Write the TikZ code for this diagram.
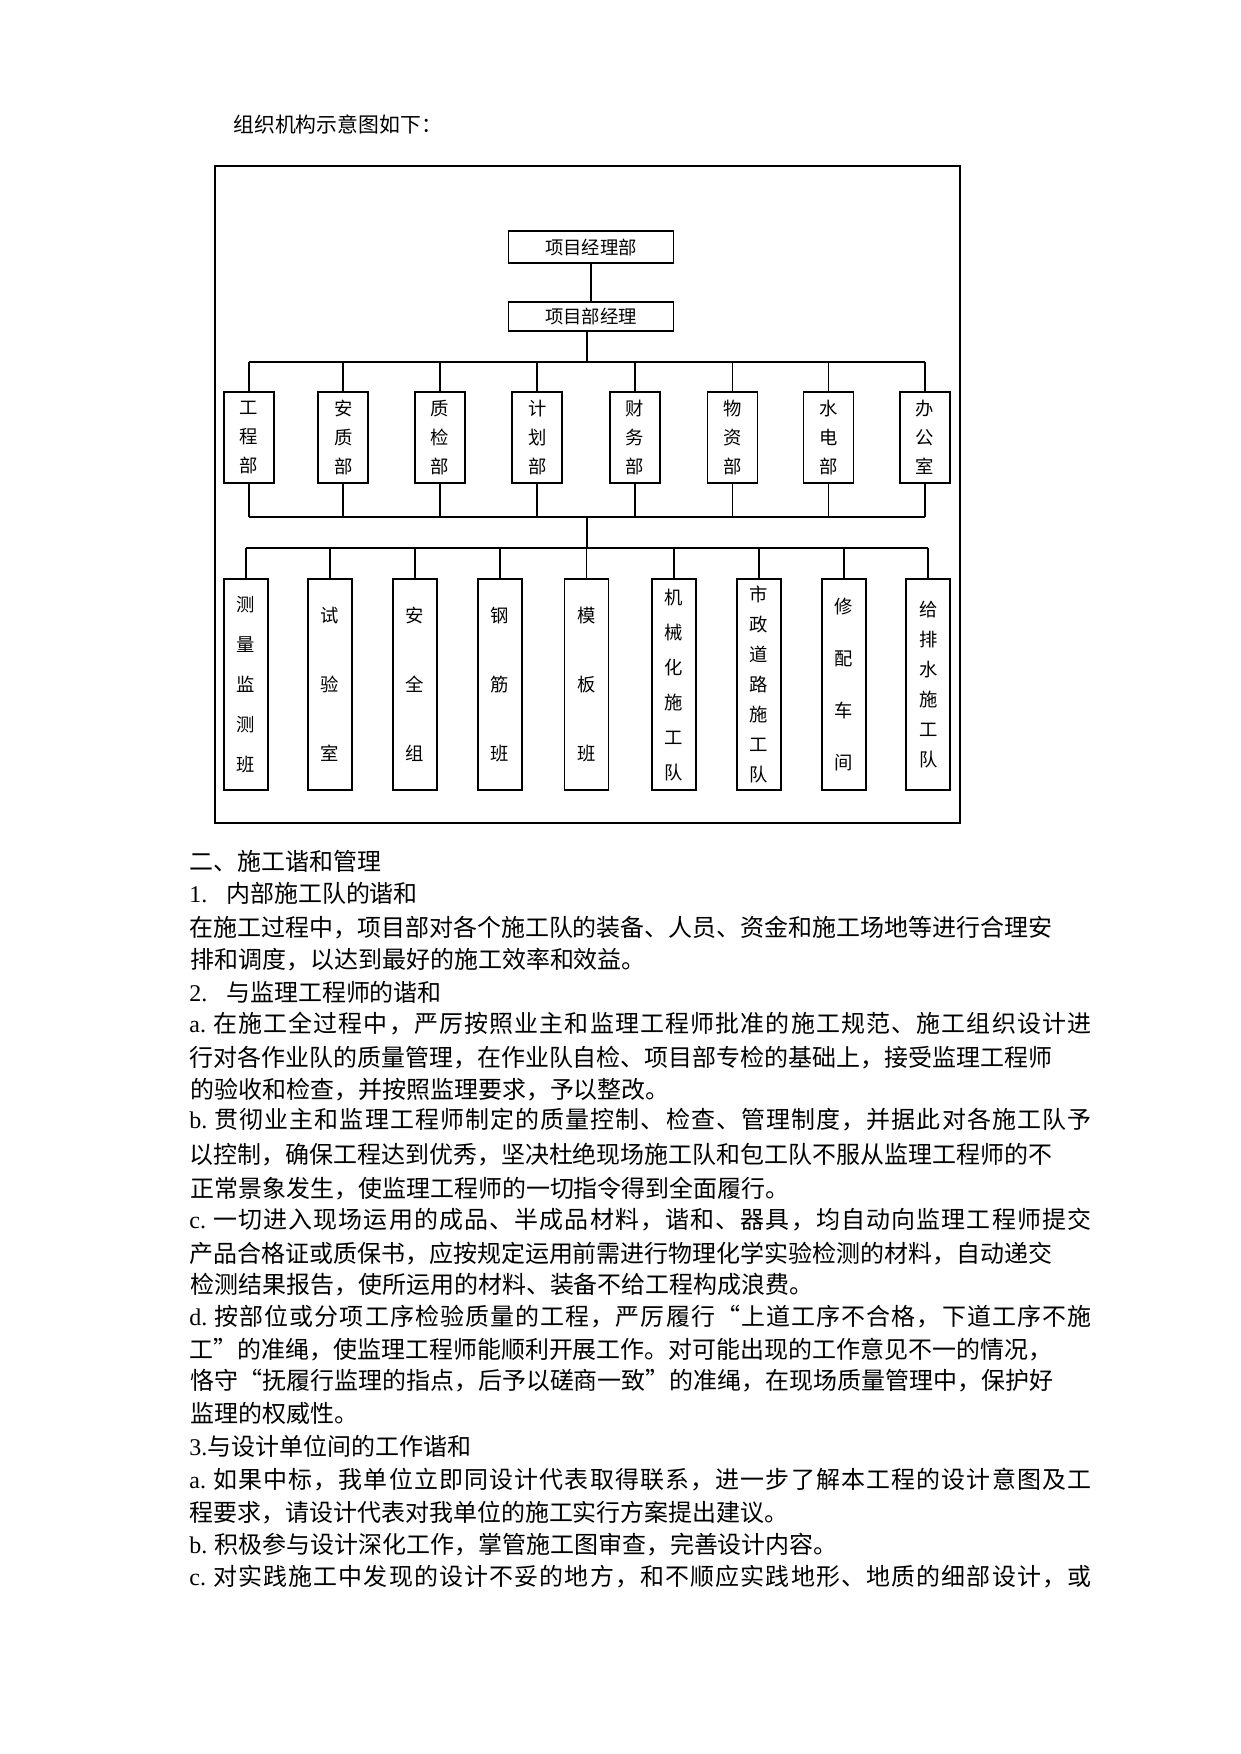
\documentclass[tikz,border=0pt]{standalone}
\usepackage{fontspec}
\setmainfont{Liberation Serif}
\newfontfamily\cjk{Noto Sans CJK SC}
\usepackage{tikz}
\newcommand{\lat}[1]{{\rmfamily #1}}
% spread the characters of a full line over the text width
\def\sprend{sprend-marker}
\def\spreadtxt#1{\sprfirst#1\sprend}
\def\sprfirst#1{#1\sprloop}
\def\sprloop#1{\ifx#1\sprend\else\hskip 0pt plus 1fil#1\expandafter\sprloop\fi}
\newcommand{\fullline}[2]{\hbox to 432.7pt{\lat{#1} \spreadtxt{#2}}}

\begin{document}
\begin{tikzpicture}[x=0.4797pt, y=-0.4797pt,
    frame/.style={line width=0.8pt},
    chartbox/.style={draw, line width=0.8pt, inner sep=0pt, align=center},
    headbox/.style={chartbox, minimum width=79.2pt, minimum height=14.6pt,
        font=\cjk\fontsize{8.8pt}{10pt}\selectfont},
    deptbox/.style={chartbox, minimum width=24pt, minimum height=43.9pt,
        font=\cjk\fontsize{8.8pt}{13.9pt}\selectfont},
    teambox/.style={chartbox, minimum width=21.1pt, minimum height=101.1pt,
        font=\cjk\fontsize{8.8pt}{#1}\selectfont},
    txt/.style={anchor=west, inner sep=0pt, font=\cjk\fontsize{11.5pt}{14pt}\selectfont}]
    \useasboundingbox (0,0) rectangle (1241,1754);

    \node[anchor=west, inner sep=0pt, font=\cjk\fontsize{10pt}{12pt}\selectfont] (title) at (233,124) {组织机构示意图如下：};

    % chart
    \draw[frame] (215,166) rectangle (960,823);
    \node[headbox, minimum height=15.2pt] (top) at (591,247) {项目经理部};
    \node[headbox, minimum height=14.1pt] (mgr) at (591,316.4) {项目部经理};

    \node[deptbox] (d1) at (249,437.5) {工\\程\\部};
    \node[deptbox] (d2) at (343.3,437.5) {安\\质\\部};
    \node[deptbox] (d3) at (439.7,437.5) {质\\检\\部};
    \node[deptbox] (d4) at (537.2,437.5) {计\\划\\部};
    \node[deptbox] (d5) at (635.1,437.5) {财\\务\\部};
    \node[deptbox] (d6) at (732.6,437.5) {物\\资\\部};
    \node[deptbox] (d7) at (828.5,437.5) {水\\电\\部};
    \node[deptbox] (d8) at (924.9,437.5) {办\\公\\室};

    \node[teambox=19.2pt] (t1) at (245.8,684.7) {测\\量\\监\\测\\班};
    \node[teambox=33.1pt] (t2) at (330,684.7) {试\\验\\室};
    \node[teambox=33.1pt] (t3) at (414.7,684.7) {安\\全\\组};
    \node[teambox=33.1pt] (t4) at (500.1,684.7) {钢\\筋\\班};
    \node[teambox=33.1pt] (t5) at (586.6,684.7) {模\\板\\班};
    \node[teambox=16.8pt] (t6) at (673.8,684.7) {机\\械\\化\\施\\工\\队};
    \node[teambox=14.4pt] (t7) at (759,684.7) {市\\政\\道\\路\\施\\工\\队};
    \node[teambox=24.9pt] (t8) at (844,684.7) {修\\配\\车\\间};
    \node[teambox=14.4pt] (t9) at (928.2,684.7) {给\\排\\水\\施\\工\\队};

    \coordinate (bus1) at (587,362.3);
    \coordinate (bus2) at (587,516.7);
    \coordinate (bus3) at (587,548.3);

    \draw[frame] (top) -- (mgr);
    \draw[frame] (mgr.south -| bus1) -- (bus1);
    \draw[frame] (d1.north |- bus1) -- (d8.north |- bus1);
    \draw[frame] (d1.south |- bus2) -- (d8.south |- bus2);
    \draw[frame] (d1.north) -- (d1.north |- bus1) (d1.south) -- (d1.south |- bus2);
    \draw[frame] (d2.north) -- (d2.north |- bus1) (d2.south) -- (d2.south |- bus2);
    \draw[frame] (d3.north) -- (d3.north |- bus1) (d3.south) -- (d3.south |- bus2);
    \draw[frame] (d4.north) -- (d4.north |- bus1) (d4.south) -- (d4.south |- bus2);
    \draw[frame] (d5.north) -- (d5.north |- bus1) (d5.south) -- (d5.south |- bus2);
    \draw[frame] (d6.north) -- (d6.north |- bus1) (d6.south) -- (d6.south |- bus2);
    \draw[frame] (d7.north) -- (d7.north |- bus1) (d7.south) -- (d7.south |- bus2);
    \draw[frame] (d8.north) -- (d8.north |- bus1) (d8.south) -- (d8.south |- bus2);
    \draw[frame] (bus2) -- (bus3);
    \draw[frame] (t1.north |- bus3) -- (t9.north |- bus3);
    \draw[frame] (t1.north) -- (t1.north |- bus3);
    \draw[frame] (t2.north) -- (t2.north |- bus3);
    \draw[frame] (t3.north) -- (t3.north |- bus3);
    \draw[frame] (t4.north) -- (t4.north |- bus3);
    \draw[frame] (t5.north) -- (t5.north |- bus3);
    \draw[frame] (t6.north) -- (t6.north |- bus3);
    \draw[frame] (t7.north) -- (t7.north |- bus3);
    \draw[frame] (t8.north) -- (t8.north |- bus3);
    \draw[frame] (t9.north) -- (t9.north |- bus3);

    % text below the chart
    \node[txt] (l1) at (189,861.7) {二、施工谐和管理};
    \node[txt] (l2) at (189,893.3) {\lat{1.}\hspace{9pt}内部施工队的谐和};
    \node[txt] (l3) at (189,927.7) {在施工过程中，项目部对各个施工队的装备、人员、资金和施工场地等进行合理安};
    \node[txt] (l4) at (190,960) {排和调度，以达到最好的施工效率和效益。};
    \node[txt] (l5) at (189,992.3) {\lat{2.}\hspace{9pt}与监理工程师的谐和};
    \node[txt] (l6) at (189,1023.3) {\fullline{a.}{在施工全过程中，严厉按照业主和监理工程师批准的施工规范、施工组织设计进}};
    \node[txt] (l7) at (189,1057.7) {行对各作业队的质量管理，在作业队自检、项目部专检的基础上，接受监理工程师};
    \node[txt] (l8) at (190,1089.3) {的验收和检查，并按照监理要求，予以整改。};
    \node[txt] (l9) at (189,1120) {\fullline{b.}{贯彻业主和监理工程师制定的质量控制、检查、管理制度，并据此对各施工队予}};
    \node[txt] (l10) at (189,1155) {以控制，确保工程达到优秀，坚决杜绝现场施工队和包工队不服从监理工程师的不};
    \node[txt] (l11) at (190,1188.3) {正常景象发生，使监理工程师的一切指令得到全面履行。};
    \node[txt] (l12) at (189,1220) {\fullline{c.}{一切进入现场运用的成品、半成品材料，谐和、器具，均自动向监理工程师提交}};
    \node[txt] (l13) at (189,1253.3) {产品合格证或质保书，应按规定运用前需进行物理化学实验检测的材料，自动递交};
    \node[txt] (l14) at (190,1285) {检测结果报告，使所运用的材料、装备不给工程构成浪费。};
    \node[txt] (l15) at (189,1316.7) {\fullline{d.}{按部位或分项工序检验质量的工程，严厉履行“上道工序不合格，下道工序不施}};
    \node[txt] (l16) at (189,1349.3) {工”的准绳，使监理工程师能顺利开展工作。对可能出现的工作意见不一的情况，};
    \node[txt] (l17) at (190,1380.7) {恪守“抚履行监理的指点，后予以磋商一致”的准绳，在现场质量管理中，保护好};
    \node[txt] (l18) at (190,1413.3) {监理的权威性。};
    \node[txt] (l19) at (189,1446.7) {\lat{3.}与设计单位间的工作谐和};
    \node[txt] (l20) at (189,1480) {\fullline{a.}{如果中标，我单位立即同设计代表取得联系，进一步了解本工程的设计意图及工}};
    \node[txt] (l21) at (189,1512.7) {程要求，请设计代表对我单位的施工实行方案提出建议。};
    \node[txt] (l22) at (189,1545) {\lat{b.} 积极参与设计深化工作，掌管施工图审查，完善设计内容。};
    \node[txt] (l23) at (189,1576.7) {\fullline{c.}{对实践施工中发现的设计不妥的地方，和不顺应实践地形、地质的细部设计，或}};
\end{tikzpicture}
\end{document}
